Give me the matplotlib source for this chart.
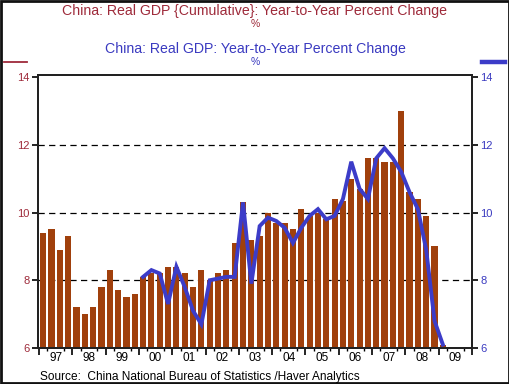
import matplotlib
matplotlib.use("Agg")
import matplotlib.pyplot as plt
from matplotlib.lines import Line2D
from matplotlib.patches import Rectangle

plt.rcParams['font.family'] = ['Liberation Sans', 'DejaVu Sans']

# Cumulative YTD real GDP growth, quarterly 1997Q1 .. 2009Q1
bar_values = [
    9.4, 9.5, 8.9, 9.3,     # 1997
    7.2, 7.0, 7.2, 7.8,     # 1998
    8.3, 7.7, 7.5, 7.6,     # 1999
    8.1, 8.2, 8.2, 8.4,     # 2000
    8.4, 8.2, 7.8, 8.3,     # 2001
    8.0, 8.2, 8.3, 9.1,     # 2002
    10.3, 9.2, 9.3, 10.0,   # 2003
    9.7, 9.7, 9.5, 10.1,    # 2004
    9.9, 10.0, 9.8, 10.4,   # 2005
    10.35, 11.0, 10.7, 11.6,  # 2006
    11.6, 11.5, 11.5, 13.0,   # 2007
    10.6, 10.4, 9.9, 9.0,     # 2008
    6.1,                      # 2009
]
bar_start_year = 1997

# Quarterly YoY real GDP growth, 2000Q1 .. 2009Q1
line_values = [
    8.1, 8.3, 8.2, 7.3,     # 2000
    8.4, 7.8, 7.1, 6.7,     # 2001
    8.0, 8.05, 8.1, 8.1,    # 2002
    10.3, 7.9, 9.6, 9.85,   # 2003
    9.75, 9.55, 9.1, 9.55,  # 2004
    9.9, 10.1, 9.8, 9.9,    # 2005
    10.4, 11.5, 10.7, 10.4,  # 2006
    11.6, 11.9, 11.6, 11.2,  # 2007
    10.6, 10.1, 8.9, 6.8,    # 2008
    6.1,                     # 2009
]
line_start_year = 2000

years = list(range(1997, 2010))
year_labels = ["97", "98", "99", "00", "01", "02", "03", "04", "05", "06", "07", "08", "09"]
y_ticks = [6, 8, 10, 12, 14]

title1 = "China: Real GDP {Cumulative}: Year-to-Year Percent Change"
title2 = "China: Real GDP: Year-to-Year Percent Change"
source = "Source:  China National Bureau of Statistics /Haver Analytics"

RED = "#9E2A3A"
BLUE = "#3A3AC0"
BAR = "#A0400C"
LINE = "#3C3CC8"

fig = plt.figure(figsize=(5.10, 3.84), dpi=100)
fig.patch.set_facecolor("white")
ax = fig.add_axes([38/510, 1-348/384, (472-38)/510, (348-75)/384])

bx = [bar_start_year + i*0.25 + 0.125 for i in range(len(bar_values))]
ax.bar(bx, [v - 6 for v in bar_values], bottom=6, width=0.185, color=BAR, linewidth=0, zorder=2)

ax.set_xlim(1996.97, 2010)
ax.set_ylim(6, 14.06)
for y in [8, 10, 12]:
    ax.axhline(y, color="black", lw=0.9, ls=(0, (5, 3.5)), zorder=1)

ax.set_yticks(y_ticks)
ax.set_yticklabels([str(t) for t in y_ticks])
ax.tick_params(axis='y', direction='out', length=4, width=1.2, labelsize=8,
               labelcolor=RED, pad=2)

ax.set_xticks(years + [2010])
ax.set_xticklabels([])
ax.tick_params(axis='x', which='major', direction='out', length=5, width=1.2)
ax.set_xticks([y + 0.5 for y in years], minor=True)
ax.set_xticklabels(year_labels, minor=True)
ax.tick_params(axis='x', which='minor', length=0, labelsize=8.5, pad=3)

sec = ax.secondary_xaxis('bottom')
qt = []
for y in years:
    qt += [y + 0.25, y + 0.75]
sec.set_xticks(qt)
sec.set_xticklabels([])
sec.tick_params(direction='out', length=2.5, width=1.0)
sec.spines['bottom'].set_visible(False)

for s in ax.spines.values():
    s.set_linewidth(1.4)
    s.set_color("#222222")

ax2 = ax.twinx()
lx = [line_start_year + i*0.25 + 0.125 for i in range(len(line_values))]
ax2.plot(lx, line_values, color=LINE, lw=2.8, solid_joinstyle='miter', zorder=3)
ax2.set_ylim(6, 14.06)
ax2.set_yticks(y_ticks)
ax2.set_yticklabels([str(t) for t in y_ticks])
ax2.tick_params(axis='y', direction='out', length=4, width=1.2, labelsize=8,
                labelcolor=BLUE, pad=2)
for s in ax2.spines.values():
    s.set_linewidth(1.4)
    s.set_color("#222222")

fig.text(0.5, 1-10.5/384, title1, ha='center', va='center', fontsize=10.2, color=RED)
fig.text(0.5, 1-24/384, "%", ha='center', va='center', fontsize=7.5, color=RED)
fig.text(0.5, 1-48.5/384, title2, ha='center', va='center', fontsize=10.2, color=BLUE)
fig.text(0.5, 1-62/384, "%", ha='center', va='center', fontsize=7.5, color=BLUE)
fig.text(40/510, 1-377/384, source, ha='left', va='center', fontsize=8.6, color="black")

fig.add_artist(Line2D([4/510, 27/510], [1-62/384, 1-62/384], color=RED, lw=1.3,
                      transform=fig.transFigure))
fig.add_artist(Line2D([482/510, 505/510], [1-62/384, 1-62/384], color=LINE, lw=3.2,
                      transform=fig.transFigure))
fig.add_artist(Rectangle((0.001, 0.002), 0.997, 0.996, fill=False, edgecolor="#111111",
                         lw=2, transform=fig.transFigure))

fig.savefig("out.png", dpi=100)
